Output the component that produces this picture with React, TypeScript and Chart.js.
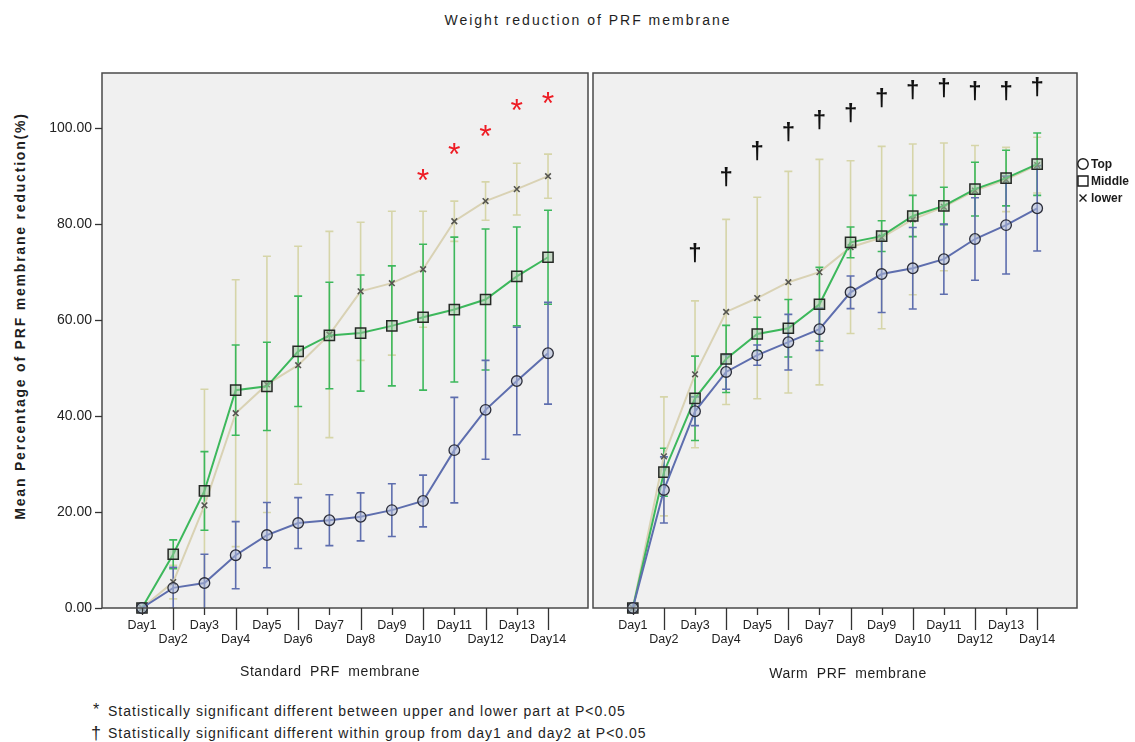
import React, { useEffect, useRef } from "react";
import { Chart, registerables } from "chart.js";

Chart.register(...registerables);

const FONT = '"Liberation Sans", Arial, sans-serif';

const DAYS = ["Day1", "Day2", "Day3", "Day4", "Day5", "Day6", "Day7", "Day8", "Day9", "Day10", "Day11", "Day12", "Day13", "Day14"];

// Standard PRF membrane: mean weight reduction (%) and error bar half-widths
const STD_TOP = [0, 4.2, 5.2, 11.0, 15.2, 17.7, 18.3, 19.0, 20.4, 22.3, 32.9, 41.3, 47.3, 53.1];
const STD_TOP_ERR = [0, 4.3, 6.0, 7.0, 6.8, 5.3, 5.3, 5.0, 5.5, 5.4, 11.0, 10.3, 11.2, 10.6];
const STD_MIDDLE = [0, 11.2, 24.4, 45.4, 46.2, 53.5, 56.8, 57.3, 58.8, 60.6, 62.2, 64.3, 69.1, 73.1];
const STD_MIDDLE_ERR = [0, 3.0, 8.2, 9.4, 9.2, 11.5, 11.1, 12.1, 12.5, 15.2, 15.1, 14.7, 10.3, 9.8];
const STD_LOWER = [0, 5.4, 21.4, 40.6, 46.6, 50.6, 57.0, 66.0, 67.7, 70.6, 80.6, 84.8, 87.3, 90.0];
const STD_LOWER_ERR = [0, 3.5, 24.2, 27.8, 26.7, 24.8, 21.5, 14.4, 15.0, 12.1, 4.2, 4.0, 5.4, 4.6];

// Warm PRF membrane
const WARM_TOP = [0, 24.6, 41.0, 49.2, 52.7, 55.4, 58.1, 65.8, 69.6, 70.8, 72.7, 76.9, 79.8, 83.3];
const WARM_TOP_ERR = [0, 6.9, 3.0, 3.6, 2.1, 5.8, 4.4, 3.4, 8.0, 8.5, 7.3, 8.6, 10.2, 8.9];
const WARM_MIDDLE = [0, 28.3, 43.7, 51.9, 57.1, 58.3, 63.3, 76.2, 77.5, 81.7, 83.8, 87.3, 89.6, 92.5];
const WARM_MIDDLE_ERR = [0, 5.0, 8.8, 7.0, 3.5, 6.0, 7.7, 3.2, 3.2, 4.3, 3.9, 5.6, 5.8, 6.5];
const WARM_LOWER = [0, 31.6, 48.7, 61.7, 64.6, 67.9, 70.0, 75.2, 77.2, 81.0, 83.6, 87.0, 89.3, 92.3];
const WARM_LOWER_ERR = [0, 12.4, 15.3, 19.3, 21.0, 23.1, 23.5, 18.0, 19.0, 15.7, 13.3, 9.4, 6.7, 5.8];

// Significance markers (day, height on the value axis)
const STAR_DAYS = ["Day10", "Day11", "Day12", "Day13", "Day14"];
const STAR_LEVEL = [90.2, 95.6, 99.4, 104.8, 106.3];
const DAGGER_DAYS = ["Day3", "Day4", "Day5", "Day6", "Day7", "Day8", "Day9", "Day10", "Day11", "Day12", "Day13", "Day14"];
const DAGGER_LEVEL = [74.0, 89.8, 95.2, 99.2, 101.7, 103.1, 106.3, 107.9, 108.3, 107.7, 107.7, 108.5];

const Y_TICKS = [0, 20, 40, 60, 80, 100];
const Y_MAX = 111.5;
const X_MIN = -1.28;
const X_MAX = 14.28;

const SERIES_NAMES = ["Top", "Middle", "lower"];

const TOP_COLOR = "#5e6eae";
const MIDDLE_COLOR = "#3db85c";
const LOWER_COLOR = "#d9d2b4";
const LOWER_BAR_COLOR = "#d6d5a9";
const BAR_COLORS = [TOP_COLOR, MIDDLE_COLOR, LOWER_BAR_COLOR];

type Marks = { days: string[]; levels: number[]; glyph: string; color: string; font: string };

const toPoints = (vals: number[]) => vals.map((v, i) => ({ x: i, y: v }));

function drawSymbol(ctx: CanvasRenderingContext2D, kind: number, x: number, y: number) {
  ctx.save();
  ctx.strokeStyle = "#1a1a1a";
  ctx.lineWidth = 1.4;
  ctx.beginPath();
  if (kind === 0) {
    ctx.arc(x, y, 5.2, 0, Math.PI * 2);
  } else if (kind === 1) {
    ctx.rect(x - 5, y - 5, 10, 10);
  } else {
    ctx.moveTo(x - 3.5, y - 3.5);
    ctx.lineTo(x + 3.5, y + 3.5);
    ctx.moveTo(x + 3.5, y - 3.5);
    ctx.lineTo(x - 3.5, y + 3.5);
  }
  ctx.stroke();
  ctx.restore();
}

function panelPlugin(errs: number[][], showYTicks: boolean, marks: Marks, showLegend: boolean) {
  return {
    id: "panelDecor",
    beforeDraw(chart: any) {
      const { ctx, chartArea: a } = chart;
      ctx.save();
      ctx.fillStyle = "#f0f0f0";
      ctx.fillRect(a.left, a.top, a.right - a.left, a.bottom - a.top);
      ctx.restore();
    },
    beforeDatasetsDraw(chart: any) {
      const { ctx, chartArea: a } = chart;
      const yScale = chart.scales.y;
      ctx.save();
      ctx.beginPath();
      ctx.rect(a.left, a.top, a.right - a.left, a.bottom - a.top);
      ctx.clip();
      for (let d = chart.data.datasets.length - 1; d >= 0; d--) {
        const meta = chart.getDatasetMeta(d);
        const values = chart.data.datasets[d].data as { x: number; y: number }[];
        ctx.strokeStyle = BAR_COLORS[d];
        ctx.lineWidth = 1.6;
        meta.data.forEach((pt: any, j: number) => {
          const e = errs[d][j];
          if (!e) return;
          const m = values[j].y;
          const yHi = yScale.getPixelForValue(m + e);
          const yLo = yScale.getPixelForValue(m - e);
          const x = pt.x;
          ctx.beginPath();
          ctx.moveTo(x, yHi);
          ctx.lineTo(x, yLo);
          ctx.moveTo(x - 4, yHi);
          ctx.lineTo(x + 4, yHi);
          ctx.moveTo(x - 4, yLo);
          ctx.lineTo(x + 4, yLo);
          ctx.stroke();
        });
      }
      ctx.restore();
    },
    afterDraw(chart: any) {
      const { ctx, chartArea: a } = chart;
      const xs = chart.scales.x;
      const ys = chart.scales.y;
      ctx.save();
      // panel frame
      ctx.strokeStyle = "#4a4a4a";
      ctx.lineWidth = 1.5;
      ctx.strokeRect(a.left, a.top, a.right - a.left, a.bottom - a.top);
      // category ticks: short under upper-row labels, long under lower-row labels
      ctx.strokeStyle = "#333";
      ctx.lineWidth = 1.3;
      DAYS.forEach((_, i) => {
        const x = Math.round(xs.getPixelForValue(i)) + 0.5;
        ctx.beginPath();
        ctx.moveTo(x, a.bottom);
        ctx.lineTo(x, a.bottom + (i % 2 === 0 ? 7 : 22));
        ctx.stroke();
      });
      if (showYTicks) {
        Y_TICKS.forEach((v) => {
          const y = Math.round(ys.getPixelForValue(v)) + 0.5;
          ctx.beginPath();
          ctx.moveTo(a.left - 7, y);
          ctx.lineTo(a.left, y);
          ctx.stroke();
        });
      }
      // significance glyphs
      ctx.fillStyle = marks.color;
      ctx.font = marks.font;
      ctx.textAlign = "center";
      ctx.textBaseline = "alphabetic";
      const m = ctx.measureText(marks.glyph);
      const mid = (m.actualBoundingBoxAscent - m.actualBoundingBoxDescent) / 2;
      marks.days.forEach((d, k) => {
        const x = xs.getPixelForValue(DAYS.indexOf(d));
        const y = ys.getPixelForValue(marks.levels[k]);
        ctx.fillText(marks.glyph, x, y + mid);
      });
      if (showLegend) {
        const lx = a.right + 6;
        const rows = [a.top + 91, a.top + 108, a.top + 125];
        ctx.font = `bold 12px ${FONT}`;
        ctx.fillStyle = "#1a1a1a";
        ctx.textAlign = "left";
        ctx.textBaseline = "middle";
        SERIES_NAMES.forEach((name, k) => {
          drawSymbol(ctx, k, lx, rows[k]);
          ctx.fillText(name, lx + 8, rows[k] + 0.5);
        });
      }
      ctx.restore();
    },
  };
}

function buildConfig(top: number[], mid: number[], low: number[], errs: number[][], showYTicks: boolean, marks: Marks, showLegend: boolean, padL: number, padR: number): any {
  return {
    type: "line",
    data: {
      datasets: [
        {
          label: "Top",
          data: toPoints(top),
          borderColor: TOP_COLOR,
          borderWidth: 2,
          pointStyle: "circle",
          pointRadius: 5.3,
          pointBorderWidth: 1.3,
          pointBorderColor: "#2b2d3a",
          pointBackgroundColor: "rgba(175,185,215,0.55)",
          clip: false,
        },
        {
          label: "Middle",
          data: toPoints(mid),
          borderColor: MIDDLE_COLOR,
          borderWidth: 2,
          pointStyle: "rect",
          pointRadius: 7.2,
          pointBorderWidth: 1.5,
          pointBorderColor: "#262a26",
          pointBackgroundColor: "rgba(160,195,160,0.5)",
          clip: false,
        },
        {
          label: "lower",
          data: toPoints(low),
          borderColor: LOWER_COLOR,
          borderWidth: 2,
          pointStyle: "crossRot",
          pointRadius: 4,
          pointBorderWidth: 1.6,
          pointBorderColor: "#55554f",
          clip: false,
        },
      ],
    },
    options: {
      responsive: false,
      animation: false,
      events: [],
      layout: { autoPadding: false, padding: { left: padL, right: padR, top: 13, bottom: 0 } },
      plugins: { legend: { display: false }, tooltip: { enabled: false } },
      scales: {
        x: {
          type: "linear",
          min: X_MIN,
          max: X_MAX,
          afterBuildTicks: (s: any) => {
            s.ticks = DAYS.map((_, i) => ({ value: i }));
          },
          afterFit: (s: any) => {
            s.height = 72;
            s.paddingLeft = 0;
            s.paddingRight = 0;
          },
          grid: { display: false, drawTicks: false },
          border: { display: false },
          ticks: {
            autoSkip: false,
            maxRotation: 0,
            minRotation: 0,
            padding: 11,
            color: "#222",
            font: { family: FONT, size: 12.5, lineHeight: 14 / 12.5 },
            callback: (v: number) => {
              const i = Math.round(v);
              return i % 2 === 0 ? [DAYS[i], ""] : ["", DAYS[i]];
            },
          },
        },
        y: {
          display: showYTicks,
          min: 0,
          max: Y_MAX,
          afterBuildTicks: (s: any) => {
            s.ticks = Y_TICKS.map((v) => ({ value: v }));
          },
          afterFit: (s: any) => {
            if (showYTicks) s.width = 102;
            s.paddingTop = 0;
            s.paddingBottom = 0;
          },
          grid: { display: false, drawTicks: false },
          border: { display: false },
          ticks: {
            padding: 10,
            color: "#222",
            font: { family: FONT, size: 14 },
            callback: (v: number) => Number(v).toFixed(2),
          },
        },
      },
    },
    plugins: [panelPlugin(errs, showYTicks, marks, showLegend)],
  };
}

export default function App() {
  const leftRef = useRef<HTMLCanvasElement>(null);
  const rightRef = useRef<HTMLCanvasElement>(null);

  useEffect(() => {
    const left = new Chart(
      leftRef.current!,
      buildConfig(
        STD_TOP,
        STD_MIDDLE,
        STD_LOWER,
        [STD_TOP_ERR, STD_MIDDLE_ERR, STD_LOWER_ERR],
        true,
        { days: STAR_DAYS, levels: STAR_LEVEL, glyph: "*", color: "#ee1c24", font: `32px ${FONT}` },
        false,
        0,
        7
      )
    );
    const right = new Chart(
      rightRef.current!,
      buildConfig(
        WARM_TOP,
        WARM_MIDDLE,
        WARM_LOWER,
        [WARM_TOP_ERR, WARM_MIDDLE_ERR, WARM_LOWER_ERR],
        false,
        { days: DAGGER_DAYS, levels: DAGGER_LEVEL, glyph: "\u2020", color: "#111", font: `bold 24px ${FONT}` },
        true,
        3,
        58
      )
    );
    return () => {
      left.destroy();
      right.destroy();
    };
  }, []);

  const text = (extra: React.CSSProperties): React.CSSProperties => ({
    position: "absolute",
    whiteSpace: "nowrap",
    fontFamily: FONT,
    color: "#1e1e1e",
    ...extra,
  });

  return (
    <div style={{ position: "absolute", left: 0, top: 0, width: 1135, height: 742, background: "#fff", overflow: "hidden" }}>
      <div style={text({ left: 588, top: 20, transform: "translate(-50%, -50%)", fontSize: 14, letterSpacing: 2 })}>
        Weight reduction of PRF membrane
      </div>
      <div
        style={text({
          left: 20,
          top: 316,
          transform: "translate(-50%, -50%) rotate(-90deg)",
          fontSize: 14,
          fontWeight: "bold",
          letterSpacing: 1.8,
        })}
      >
        Mean Percentage of PRF membrane reduction(%)
      </div>
      <canvas ref={leftRef} width={595} height={620} style={{ position: "absolute", left: 0, top: 60 }} />
      <canvas ref={rightRef} width={545} height={620} style={{ position: "absolute", left: 590, top: 60 }} />
      <div style={text({ left: 330, top: 671, transform: "translate(-50%, -50%)", fontSize: 14, letterSpacing: 0.6, wordSpacing: 4 })}>
        Standard PRF membrane
      </div>
      <div style={text({ left: 848, top: 673, transform: "translate(-50%, -50%)", fontSize: 14, letterSpacing: 0.6, wordSpacing: 4 })}>
        Warm PRF membrane
      </div>
      <div style={text({ left: 93, top: 702, fontSize: 16, lineHeight: "16px" })}>*</div>
      <div style={text({ left: 108, top: 703, fontSize: 14, letterSpacing: 1, lineHeight: "16px" })}>
        Statistically significant different between upper and lower part at P&lt;0.05
      </div>
      <div style={text({ left: 91, top: 724, fontSize: 18, lineHeight: "18px" })}>{"\u2020"}</div>
      <div style={text({ left: 108, top: 725, fontSize: 14, letterSpacing: 1, lineHeight: "16px" })}>
        Statistically significant different within group from day1 and day2 at P&lt;0.05
      </div>
    </div>
  );
}
